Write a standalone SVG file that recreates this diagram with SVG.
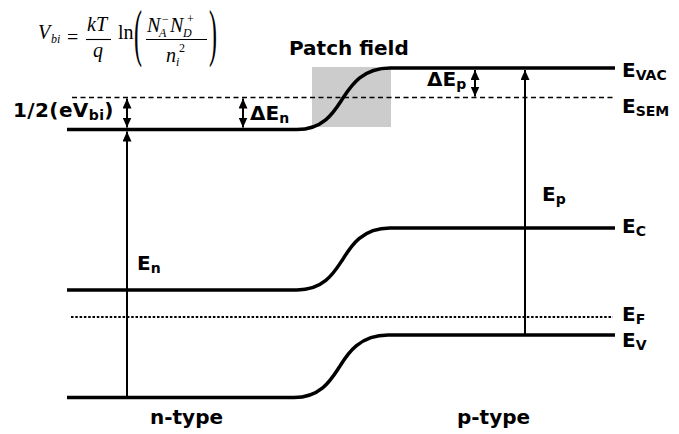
<svg xmlns="http://www.w3.org/2000/svg" width="679" height="434" viewBox="0 0 679 434">
<style>
.lvl{fill:none;stroke:#000;stroke-width:3.5}
.dash{fill:none;stroke:#000;stroke-width:1.3;stroke-dasharray:5 3.5}
.dot{fill:none;stroke:#000;stroke-width:2.2;stroke-dasharray:2.5 1.8}
.arr{fill:none;stroke:#000;stroke-width:2}
.lbl{font-family:"DejaVu Sans",Verdana,sans-serif;font-weight:bold;font-size:20px;fill:#000}
.sub{font-size:14px}
.m{font-family:"Liberation Serif","Times New Roman",serif;font-style:italic;font-size:20px;fill:#000}
.mr{font-family:"Liberation Serif","Times New Roman",serif;font-style:normal;font-size:20px;fill:#000}
.ms{font-size:12px}
.bar{stroke:#000;stroke-width:1.1}
</style>
<defs>
<marker id="ah" viewBox="0 0 10 9" refX="10" refY="4.5" markerWidth="10" markerHeight="9" markerUnits="userSpaceOnUse" orient="auto-start-reverse">
<path d="M0,0 L10,4.5 L0,9 z" fill="#000"/>
</marker>
</defs>
<rect width="679" height="434" fill="#fff"/>

<g id="formula">
<text class="m" x="38" y="39">V</text>
<text class="m ms" x="51" y="43">bi</text>
<text class="mr" x="67" y="44">=</text>
<text class="m" x="87" y="31">kT</text>
<line class="bar" x1="86" y1="39.5" x2="111" y2="39.5"/>
<text class="m" x="93" y="57">q</text>
<text class="mr" x="118" y="39">ln</text>
<text class="mr" x="134" y="54" style="font-size:40px" transform="translate(134 54) scale(0.6 1.6) translate(-134 -54)">(</text>
<text class="m" x="147" y="32">N</text>
<text class="m ms" x="159" y="37">A</text>
<text class="mr ms" x="162" y="23">−</text>
<text class="m" x="170" y="32">N</text>
<text class="m ms" x="183" y="37">D</text>
<text class="mr ms" x="187" y="23">+</text>
<line class="bar" x1="146" y1="39.5" x2="207" y2="39.5"/>
<text class="m" x="166" y="62">n</text>
<text class="m ms" x="176" y="66">i</text>
<text class="mr ms" x="179" y="52">2</text>
<text class="mr" x="209" y="54" style="font-size:40px" transform="translate(209 54) scale(0.6 1.6) translate(-209 -54)">)</text>
</g>

<g id="patch-field">
<rect x="312" y="67" width="79" height="60" fill="#cccccc"/>
<text class="lbl" x="289" y="55">Patch field</text>
</g>

<g id="E_SEM">
<line class="dash" x1="72" y1="97.5" x2="615" y2="97.5"/>
<text class="lbl" x="622" y="113">E<tspan class="sub" dy="3">SEM</tspan></text>
</g>

<g id="E_VAC">
<path class="lvl" d="M67,129.5 L297,129.5 C325,129.5 335,110 343,98 C351,86 362,68 390,68 L615,68"/>
<text class="lbl" x="622" y="77">E<tspan class="sub" dy="3">VAC</tspan></text>
</g>

<g id="E_C">
<path class="lvl" d="M67,290 L297,290 C325,290 335,271 343,259 C351,246 362,228 390,228 L615,228"/>
<text class="lbl" x="622" y="233">E<tspan class="sub" dy="3">C</tspan></text>
</g>

<g id="E_F">
<line class="dot" x1="71" y1="317" x2="613" y2="317"/>
<text class="lbl" x="622" y="321">E<tspan class="sub" dy="3">F</tspan></text>
</g>

<g id="E_V">
<path class="lvl" d="M67,397.5 L294,397.5 C322,397.5 332,378 340,366 C348,353 360,335 388,335 L615,335"/>
<text class="lbl" x="622" y="347">E<tspan class="sub" dy="3">V</tspan></text>
</g>

<g id="labels">
<text class="lbl" x="13" y="117" letter-spacing="0.4">1/2(eV<tspan class="sub" dy="3">bi</tspan><tspan dy="-3">)</tspan></text>
<text class="lbl" x="250" y="120">ΔE<tspan class="sub" dy="3">n</tspan></text>
<text class="lbl" x="427" y="86">ΔE<tspan class="sub" dy="3">p</tspan></text>
<text class="lbl" x="137" y="270">E<tspan class="sub" dy="3">n</tspan></text>
<text class="lbl" x="542" y="201">E<tspan class="sub" dy="3">p</tspan></text>
<text class="lbl" x="150" y="424">n-type</text>
<text class="lbl" x="457" y="424">p-type</text>
</g>

<g id="connectors">
<line class="arr" x1="127" y1="397" x2="127" y2="131.5" marker-end="url(#ah)"/>
<line class="arr" x1="127" y1="98.5" x2="127" y2="127.5" marker-start="url(#ah)" marker-end="url(#ah)"/>
<line class="arr" x1="243" y1="98.5" x2="243" y2="127.5" marker-start="url(#ah)" marker-end="url(#ah)"/>
<line class="arr" x1="475" y1="70" x2="475" y2="96.5" marker-start="url(#ah)" marker-end="url(#ah)"/>
<line class="arr" x1="525" y1="335" x2="525" y2="70" marker-end="url(#ah)"/>
</g>
</svg>
